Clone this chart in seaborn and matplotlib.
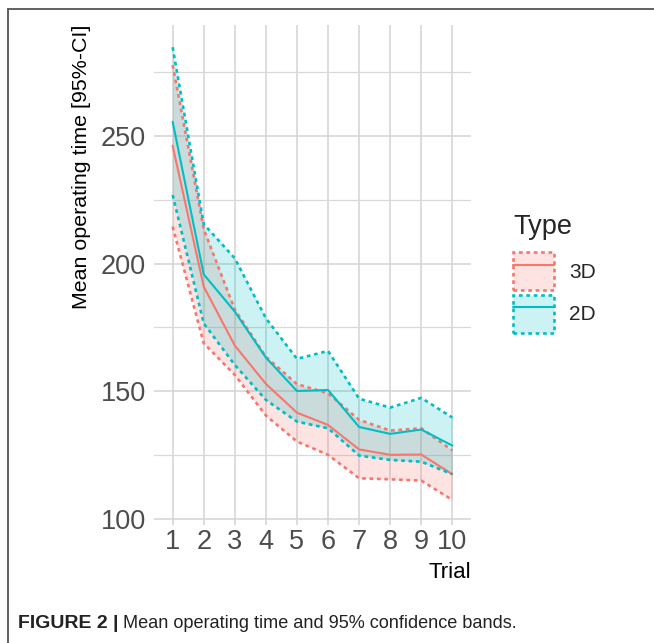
import numpy as np
import pandas as pd
import seaborn as sns
import matplotlib.pyplot as plt
from matplotlib.patches import Patch
from matplotlib.lines import Line2D

# values
trials = [1, 2, 3, 4, 5, 6, 7, 8, 9, 10]
types = ["3D", "2D"]
mean_3d = [246.2, 191.0, 167.9, 152.9, 141.6, 136.8, 127.2, 125.1, 125.2, 117.5]
lower_3d = [214.5, 168.8, 156.4, 140.5, 130.3, 125.1, 115.9, 115.5, 115.0, 107.4]
upper_3d = [277.8, 213.5, 182.0, 163.5, 152.8, 149.2, 138.8, 134.6, 135.5, 126.8]
mean_2d = [255.6, 195.8, 181.2, 163.2, 150.1, 150.5, 136.0, 133.3, 135.0, 128.7]
lower_2d = [226.9, 176.6, 160.3, 146.6, 138.1, 135.5, 124.8, 123.1, 122.4, 117.5]
upper_2d = [284.8, 215.5, 202.1, 178.6, 162.7, 165.8, 147.1, 143.6, 147.4, 139.7]
y_ticks = [100, 150, 200, 250]
colors = {"3D": "#F8766D", "2D": "#00BFC4"}

df = pd.DataFrame({
    "Trial": trials * 2,
    "Type": ["3D"] * 10 + ["2D"] * 10,
    "mean": mean_3d + mean_2d,
    "lower": lower_3d + lower_2d,
    "upper": upper_3d + upper_2d,
})

sns.set_theme(style="whitegrid")
plt.rcParams["font.family"] = ["Liberation Sans", "DejaVu Sans"]

fig = plt.figure(figsize=(6.54, 6.43), dpi=100)
ax = fig.add_axes([154 / 654, 1 - 525 / 643, (471 - 154) / 654, 500 / 643])

dots = (0, (1.4, 1.4))
for t in types:
    d = df[df["Type"] == t]
    c = colors[t]
    ax.fill_between(d["Trial"], d["lower"], d["upper"], color=c, alpha=0.2, lw=0)
    sns.lineplot(data=d, x="Trial", y="mean", color=c, lw=1.5, ax=ax)
    for col in ["lower", "upper"]:
        sns.lineplot(data=d, x="Trial", y=col, color=c, lw=1.9, ax=ax, linestyle=dots)

ax.set_xlim(0.4, 10.6)
ax.set_ylim(97.6, 293.5)
ax.set_xticks(trials)
ax.set_yticks(y_ticks)
ax.set_yticks([125, 175, 225, 275], minor=True)
ax.grid(True, which="major", color="#D3D3D3", lw=1.1)
ax.grid(True, which="minor", axis="y", color="#D9D9D9", lw=0.9)
for s in ax.spines.values():
    s.set_visible(False)
ax.tick_params(axis="both", which="both", length=0, labelsize=19.5, labelcolor="#4D4D4D")
ax.tick_params(axis="y", pad=6)
ax.tick_params(axis="x", pad=3)

ax.set_xlabel("Trial", fontsize=16, color="black", loc="right", labelpad=5)
ax.set_ylabel("Mean operating time [95%-CI]", fontsize=15.4, color="black",
              loc="top", labelpad=7)

handles = []
for t in types:
    c = colors[t]
    box = Patch(facecolor=c + "33", edgecolor=c, linestyle=dots, lw=1.9)
    line = Line2D([], [], color=c, lw=1.5)
    handles.append((box, line))
leg = ax.legend(handles, types, loc="upper left",
                bbox_to_anchor=(513 / 654, 1 - 252 / 643), bbox_transform=fig.transFigure,
                frameon=False, fontsize=15, borderpad=0, borderaxespad=0,
                handlelength=1.97, handleheight=2.46, handletextpad=0.72, labelspacing=0.2)
fig.text(513 / 654, 1 - 227 / 643, "Type", fontsize=19.5, va="center", ha="left")

# frame and caption
fig.add_artist(Line2D([8 / 654, 8 / 654], [0, 1 - 8.5 / 643], color="#555555", lw=1.3,
                      transform=fig.transFigure))
fig.add_artist(Line2D([8 / 654, 1], [1 - 8.5 / 643, 1 - 8.5 / 643], color="#555555", lw=1.3,
                      transform=fig.transFigure))
cap1 = fig.text(18 / 654, 1 - 623 / 643, "FIGURE 2 |", fontsize=14, weight="bold",
                va="center", color="#222222")
fig.canvas.draw()
bb = cap1.get_window_extent()
fig.text((bb.x1 + 5) / 654, 1 - 623 / 643, "Mean operating time and 95% confidence bands.",
         fontsize=13.1, va="center", color="#222222")

fig.savefig("out.png", dpi=100)
